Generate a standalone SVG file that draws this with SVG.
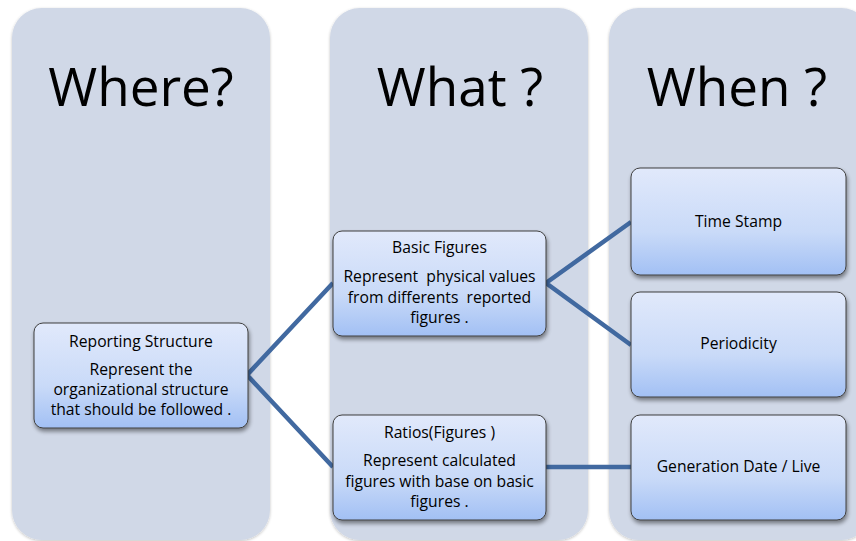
<svg xmlns="http://www.w3.org/2000/svg" width="856" height="541" viewBox="0 0 856 541">
  <defs>
    <linearGradient id="boxFill" x1="0" y1="0" x2="0" y2="1">
      <stop offset="0" stop-color="#e1e9fb"/>
      <stop offset="0.6" stop-color="#c9daf8"/>
      <stop offset="1" stop-color="#a2c0f4"/>
    </linearGradient>
    <filter id="boxShadow" x="-10%" y="-10%" width="120%" height="130%">
      <feGaussianBlur in="SourceAlpha" stdDeviation="2"/>
      <feOffset dx="1" dy="3" result="blur"/>
      <feComponentTransfer><feFuncA type="linear" slope="0.45"/></feComponentTransfer>
      <feMerge><feMergeNode/><feMergeNode in="SourceGraphic"/></feMerge>
    </filter>
    <filter id="panelShadow" x="-5%" y="-5%" width="110%" height="110%">
      <feGaussianBlur in="SourceAlpha" stdDeviation="1.5"/>
      <feOffset dx="0" dy="1"/>
      <feComponentTransfer><feFuncA type="linear" slope="0.25"/></feComponentTransfer>
      <feMerge><feMergeNode/><feMergeNode in="SourceGraphic"/></feMerge>
    </filter>
  </defs>
  <style>
    .panel { fill: #d0d8e7; filter: url(#panelShadow); }
    .head { font-family: "Open Sans", "Liberation Sans", sans-serif; font-size: 53px; fill: #000; text-anchor: middle; }
    .box { fill: url(#boxFill); stroke: #3f3f3f; stroke-width: 1; filter: url(#boxShadow); }
    .txt { font-family: "Open Sans", "Liberation Sans", sans-serif; font-size: 15.7px; fill: #000; text-anchor: middle; }
    .link { stroke: #4169a0; stroke-width: 4.5; fill: none; stroke-linejoin: miter; }
  </style>

  <rect width="856" height="541" fill="#ffffff"/>

  <!-- column panels -->
  <g id="col-where">
    <rect class="panel" x="12" y="8" width="258" height="532" rx="30"/>
    <text class="head" x="141" y="106">Where?</text>
  </g>
  <g id="col-what">
    <rect class="panel" x="330" y="8" width="258" height="532" rx="30"/>
    <text class="head" x="460" y="106">What ?</text>
  </g>
  <g id="col-when">
    <rect class="panel" x="609" y="8" width="262" height="532" rx="30"/>
    <text class="head" x="737" y="106">When ?</text>
  </g>

  <!-- connectors -->
  <g id="connectors">
    <polyline class="link" points="333,283 247,375 333,467"/>
    <polyline class="link" points="631,222 546,283 631,345"/>
    <line class="link" x1="546" y1="467" x2="631" y2="467"/>
  </g>

  <!-- nodes -->
  <g id="reporting-structure">
    <rect class="box" x="34" y="323" width="214" height="105" rx="9"/>
    <text class="txt" x="141" y="347">Reporting Structure</text>
    <text class="txt" x="141" y="375">Represent the</text>
    <text class="txt" x="141" y="395">organizational structure</text>
    <text class="txt" x="141" y="415">that should be followed .</text>
  </g>
  <g id="basic-figures">
    <rect class="box" x="333" y="231" width="213" height="105" rx="9"/>
    <text class="txt" x="439.5" y="253">Basic Figures</text>
    <text class="txt" x="439.5" y="282" xml:space="preserve">Represent  physical values</text>
    <text class="txt" x="439.5" y="303" xml:space="preserve">from differents  reported</text>
    <text class="txt" x="439.5" y="323">figures .</text>
  </g>
  <g id="ratios-figures">
    <rect class="box" x="333" y="415" width="213" height="105" rx="9"/>
    <text class="txt" x="439.5" y="438">Ratios(Figures )</text>
    <text class="txt" x="439.5" y="466">Represent calculated</text>
    <text class="txt" x="439.5" y="487">figures with base on basic</text>
    <text class="txt" x="439.5" y="507">figures .</text>
  </g>
  <g id="time-stamp">
    <rect class="box" x="631" y="168" width="215" height="107" rx="9"/>
    <text class="txt" x="738.5" y="227">Time Stamp</text>
  </g>
  <g id="periodicity">
    <rect class="box" x="631" y="292" width="215" height="105" rx="9"/>
    <text class="txt" x="738.5" y="349">Periodicity</text>
  </g>
  <g id="generation-date">
    <rect class="box" x="631" y="415" width="215" height="105" rx="9"/>
    <text class="txt" x="738.5" y="472">Generation Date / Live</text>
  </g>
</svg>
